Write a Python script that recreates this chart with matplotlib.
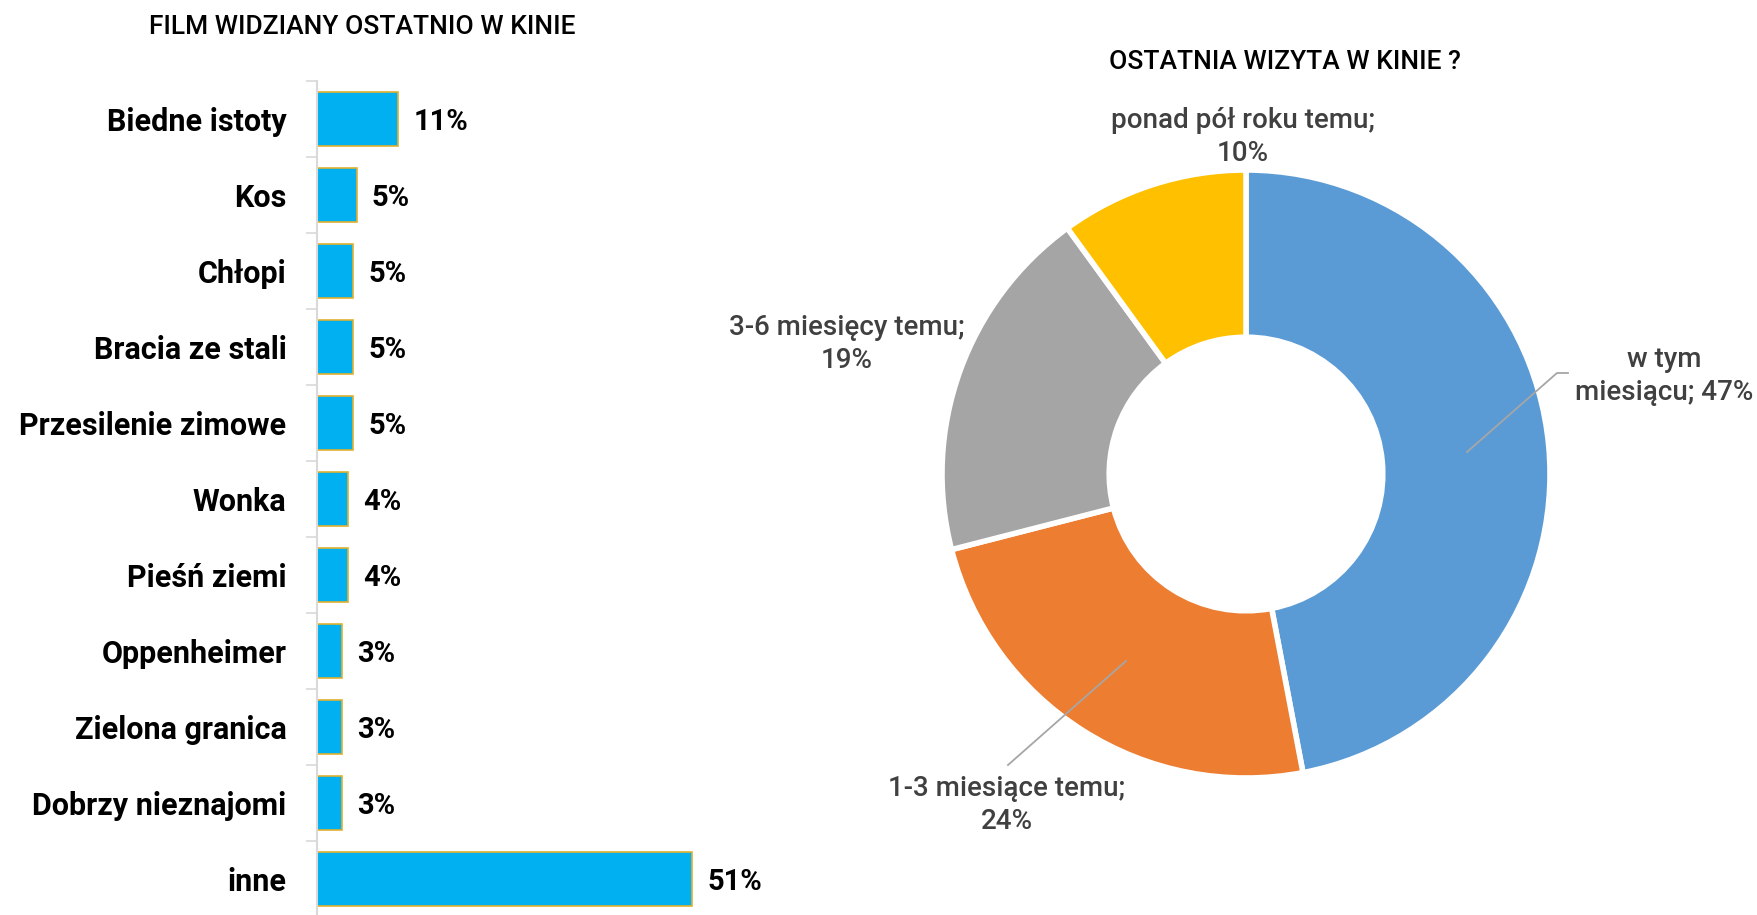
import matplotlib.pyplot as plt

plt.rcParams['font.family'] = ['Roboto', 'DejaVu Sans']

# bar chart data
films = ['Biedne istoty', 'Kos', 'Chłopi', 'Bracia ze stali', 'Przesilenie zimowe',
         'Wonka', 'Pieśń ziemi', 'Oppenheimer', 'Zielona granica', 'Dobrzy nieznajomi', 'inne']
film_pct = [11.0, 5.4, 4.9, 4.9, 4.9, 4.2, 4.2, 3.4, 3.4, 3.4, 51.0]

# donut data
visit_labels = ['w tym\nmiesiącu', '1-3 miesiące temu;\n', '3-6 miesięcy temu;\n', 'ponad pół roku temu;\n']
visit_pct = [47, 24, 19, 10]
visit_colors = ['#5B9BD5', '#ED7D31', '#A5A5A5', '#FFC000']

W, H = 1757, 915
fig = plt.figure(figsize=(W / 100, H / 100), dpi=100)

# ---- bars ----
axb = fig.add_axes([317 / W, 1 - 917 / H, 450 / W, 836 / H])
ypos = list(range(len(films)))
bars = axb.barh(ypos, film_pct, height=0.72, color='#00B0F0', edgecolor='#E0B030', linewidth=1.2)
axb.set_ylim(len(films) - 0.5, -0.5)
axb.set_xlim(0, 51 * 450 / 375)
axb.set_yticks(ypos)
axb.set_yticklabels(films, fontsize=22, fontweight='bold', va='center_baseline')
axb.set_yticks([i - 0.5 for i in range(len(films) + 1)], minor=True)
axb.tick_params(axis='y', which='major', length=0, pad=22)
axb.tick_params(axis='y', which='minor', length=8, color='#D9D9D9', width=1.2)
axb.set_xticks([])
for s in ['top', 'right', 'bottom']:
    axb.spines[s].set_visible(False)
axb.spines['left'].set_color('#D9D9D9')
axb.spines['left'].set_linewidth(1.5)
for y, v in zip(ypos, film_pct):
    axb.annotate(f'{v:.0f}%', (v, y), xytext=(11, 0), textcoords='offset points',
                 ha='left', va='center_baseline', fontsize=21, fontweight='bold')
fig.text(362 / W, 1 - 27 / H, 'FILM WIDZIANY OSTATNIO W KINIE', ha='center', va='center',
         fontsize=19, fontweight='medium')

# ---- donut ----
cx, cy, R = 1246, 474, 304
half = 350
axp = fig.add_axes([(cx - half) / W, (H - cy - half) / H, 2 * half / W, 2 * half / H])
axp.pie(visit_pct, colors=visit_colors, startangle=90, counterclock=False, radius=1,
        wedgeprops=dict(width=0.55, edgecolor='white', linewidth=4))
lim = half / R
axp.set_xlim(-lim, lim)
axp.set_ylim(-lim, lim)
axp.set_aspect('equal')
axp.axis('off')


def d(px, py):
    return ((px - cx) / R, (cy - py) / R)


lab_style = dict(fontsize=20, fontweight='medium', color='#404040', ha='center', va='center',
                 linespacing=1.25)
txt_pos = [(1664, 376), (1007, 805), (847, 344), (1243, 137)]
for lab, v, p in zip(visit_labels, visit_pct, txt_pos):
    sep = '; ' if lab.endswith('miesiącu') else ''
    axp.text(*d(*p), f'{lab}{sep}{v}%', **lab_style)

axp.plot(*zip(d(1467, 452), d(1557, 373), d(1568, 373)), color='#A6A6A6', lw=1.3)
axp.plot(*zip(d(1126, 661), d(1008, 765)), color='#A6A6A6', lw=1.3)

fig.text(1285 / W, 1 - 62 / H, 'OSTATNIA WIZYTA W KINIE ?', ha='center', va='center',
         fontsize=19, fontweight='medium')

fig.savefig('out.png', dpi=100)
